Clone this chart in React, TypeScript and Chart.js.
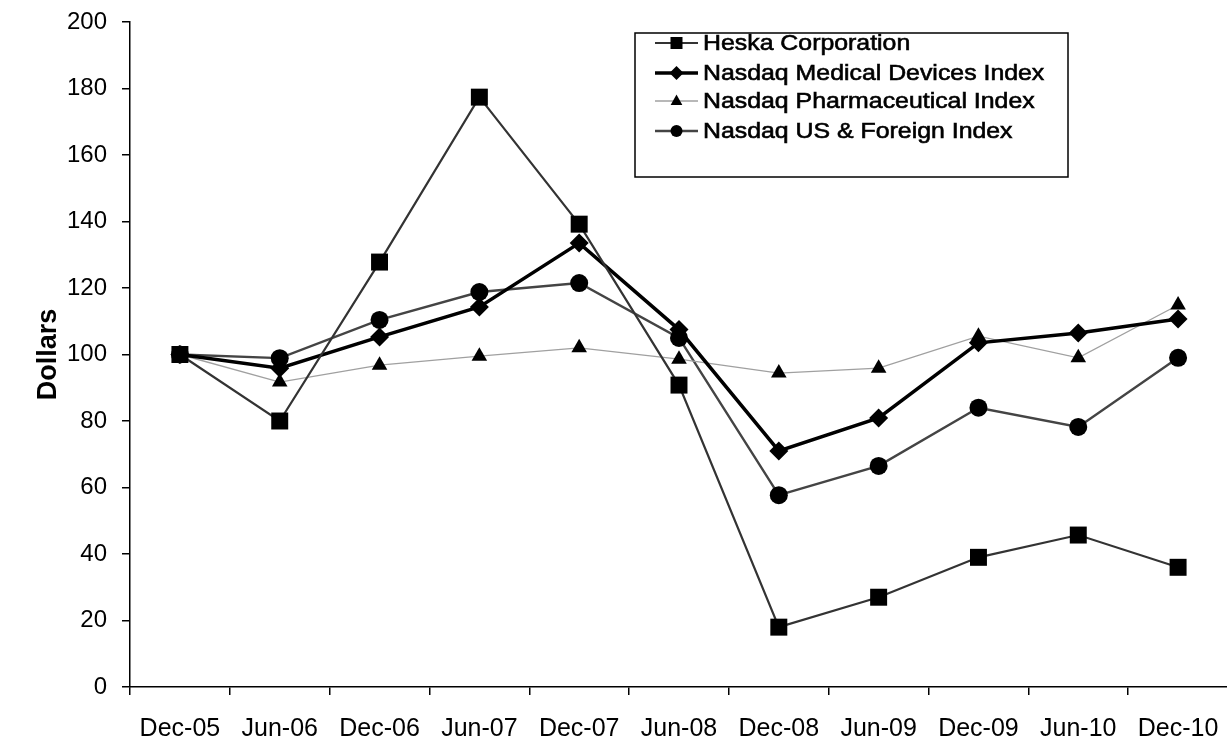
import React, { useEffect, useRef } from 'react';
import { Chart, registerables } from 'chart.js';

Chart.register(...registerables);

const categories = ['Dec-05', 'Jun-06', 'Dec-06', 'Jun-07', 'Dec-07', 'Jun-08', 'Dec-08', 'Jun-09', 'Dec-09', 'Jun-10', 'Dec-10'];
const seriesNames = ['Heska Corporation', 'Nasdaq Medical Devices Index', 'Nasdaq Pharmaceutical Index', 'Nasdaq US & Foreign Index'];
const heska = [100, 80, 127.8, 177.4, 139.2, 90.8, 18, 27, 39, 45.7, 36];
const medical = [100, 95.9, 105.3, 114.3, 133.5, 107.5, 71, 80.9, 103.5, 106.5, 110.7];
const pharma = [100, 91.7, 96.8, 99.5, 102, 98.6, 94.4, 95.9, 105.5, 99, 114.9];
const usForeign = [100, 98.9, 110.4, 118.8, 121.5, 105, 57.7, 66.5, 84, 78.2, 99];
const yMin = 0;
const yMax = 200;
const yStep = 20;

const FONT = '"Liberation Sans", Arial, sans-serif';

const lineColors = ['#333333', '#000000', '#a0a0a0', '#444444'];
const lineWidths = [2.2, 3.5, 1.3, 2.4];
const pointStyles = ['rect', 'rectRot', 'triangle', 'circle'];
const pointRadii = [12, 9.5, 9, 9];

function drawMarker(ctx: CanvasRenderingContext2D, style: string, x: number, y: number, r: number) {
  ctx.beginPath();
  if (style === 'rect') {
    ctx.rect(x - r, y - r, 2 * r, 2 * r);
  } else if (style === 'rectRot') {
    ctx.moveTo(x, y - r);
    ctx.lineTo(x + r, y);
    ctx.lineTo(x, y + r);
    ctx.lineTo(x - r, y);
    ctx.closePath();
  } else if (style === 'triangle') {
    ctx.moveTo(x, y - r);
    ctx.lineTo(x + r * 0.9, y + r * 0.6);
    ctx.lineTo(x - r * 0.9, y + r * 0.6);
    ctx.closePath();
  } else {
    ctx.arc(x, y, r, 0, Math.PI * 2);
  }
  ctx.fillStyle = '#000';
  ctx.fill();
}

export default function App() {
  const ref = useRef<HTMLCanvasElement>(null);

  useEffect(() => {
    if (!ref.current) return;

    const boxLegend = {
      id: 'boxLegend',
      afterDraw(chart: any) {
        const ctx: CanvasRenderingContext2D = chart.ctx;
        ctx.save();
        const bx = 635, by = 33, bw = 433, bh = 144;
        ctx.fillStyle = '#fff';
        ctx.fillRect(bx, by, bw, bh);
        ctx.strokeStyle = '#000';
        ctx.lineWidth = 1.5;
        ctx.strokeRect(bx, by, bw, bh);
        const rows = [43, 73, 101, 131];
        const mr = [6, 7, 6.5, 6];
        seriesNames.forEach((name, i) => {
          const y = rows[i];
          ctx.beginPath();
          ctx.strokeStyle = lineColors[i];
          ctx.lineWidth = lineWidths[i];
          ctx.moveTo(655, y);
          ctx.lineTo(698, y);
          ctx.stroke();
          drawMarker(ctx, pointStyles[i], 676.5, y, mr[i]);
          ctx.save();
          ctx.translate(703, y);
          ctx.scale(1.13, 1);
          ctx.font = `22px ${FONT}`;
          ctx.fillStyle = '#000';
          ctx.strokeStyle = '#000';
          ctx.lineWidth = 0.6;
          ctx.textBaseline = 'middle';
          ctx.textAlign = 'left';
          ctx.fillText(name, 0, 1);
          ctx.strokeText(name, 0, 1);
          ctx.restore();
        });
        ctx.restore();
      },
    };

    const series = [heska, medical, pharma, usForeign];
    const chart = new Chart(ref.current, {
      type: 'line',
      data: {
        labels: categories,
        datasets: series.map((d, i) => ({
          label: seriesNames[i],
          data: d,
          borderColor: lineColors[i],
          borderWidth: lineWidths[i],
          pointStyle: pointStyles[i] as any,
          pointRadius: pointRadii[i],
          pointBackgroundColor: '#000',
          pointBorderColor: '#000',
          pointBorderWidth: 0,
          tension: 0,
          fill: false,
        })),
      },
      options: {
        responsive: false,
        animation: false,
        events: [],
        layout: { padding: { left: 0, top: 22, right: 7, bottom: 0 } },
        plugins: {
          legend: { display: false },
          tooltip: { enabled: false },
          title: { display: false },
        },
        scales: {
          x: {
            type: 'category',
            offset: true,
            grid: {
              offset: true,
              drawOnChartArea: false,
              drawTicks: true,
              tickLength: 8,
              color: '#000',
              lineWidth: 1.5,
            },
            border: { display: true, color: '#000', width: 1.5 },
            ticks: {
              color: '#000',
              font: { family: FONT, size: 25 },
              padding: 19,
              maxRotation: 0,
              autoSkip: false,
            },
            afterFit: (scale: any) => {
              scale.height = 59;
            },
          },
          y: {
            min: yMin,
            max: yMax,
            grid: {
              drawOnChartArea: false,
              drawTicks: true,
              tickLength: 8,
              color: '#000',
              lineWidth: 1.5,
            },
            border: { display: true, color: '#000', width: 1.5 },
            ticks: {
              stepSize: yStep,
              color: '#000',
              font: { family: FONT, size: 24 },
              padding: 15,
            },
            title: {
              display: true,
              text: 'Dollars',
              color: '#000',
              font: { family: FONT, size: 27, weight: 'bold' },
              padding: { top: 32, bottom: 0 },
            },
            afterFit: (scale: any) => {
              scale.width = 130;
              scale.paddingTop = 0;
              scale.paddingBottom = 0;
            },
          },
        },
      },
      plugins: [boxLegend],
    });

    return () => chart.destroy();
  }, []);

  return (
    <div style={{ position: 'fixed', left: 0, top: 0, width: 1227, height: 746, overflow: 'hidden', background: '#fff' }}>
      <canvas ref={ref} width={1240} height={746} style={{ display: 'block' }} />
    </div>
  );
}
